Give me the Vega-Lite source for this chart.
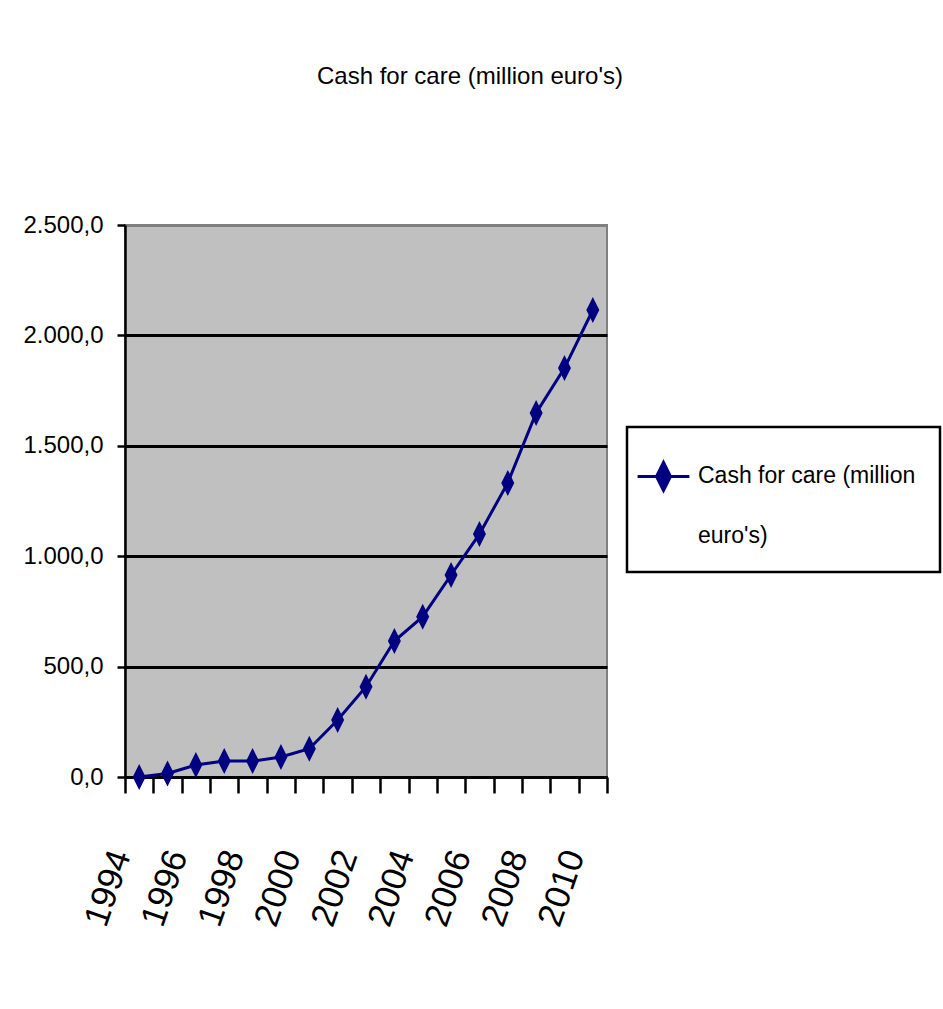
{
  "$schema": "https://vega.github.io/schema/vega-lite/v6.json",
  "autosize": {"type": "none"},
  "width": 482,
  "height": 552,
  "padding": {"left": 125, "top": 225, "right": 336, "bottom": 232},
  "background": "white",
  "title": {
    "text": "Cash for care (million euro's)",
    "anchor": "middle",
    "frame": "group",
    "dx": 104,
    "offset": 124,
    "fontSize": 24,
    "font": "Liberation Sans, Arial, sans-serif",
    "fontWeight": "normal",
    "color": "black"
  },
  "data": {
    "values": [
      {"year": 1994, "amount": 0},
      {"year": 1995, "amount": 16},
      {"year": 1996, "amount": 54},
      {"year": 1997, "amount": 72},
      {"year": 1998, "amount": 72},
      {"year": 1999, "amount": 91},
      {"year": 2000, "amount": 128},
      {"year": 2001, "amount": 258},
      {"year": 2002, "amount": 409},
      {"year": 2003, "amount": 616},
      {"year": 2004, "amount": 726},
      {"year": 2005, "amount": 915},
      {"year": 2006, "amount": 1100},
      {"year": 2007, "amount": 1332},
      {"year": 2008, "amount": 1649},
      {"year": 2009, "amount": 1852},
      {"year": 2010, "amount": 2115}
    ]
  },
  "encoding": {
    "x": {
      "field": "year",
      "type": "ordinal",
      "bandPosition": 0.5,
      "scale": {"type": "band", "paddingInner": 0, "paddingOuter": 0},
      "axis": {
        "title": null,
        "tickBand": "extent",
        "tickSize": 16,
        "tickWidth": 2.5,
        "tickColor": "black",
        "domainColor": "black",
        "domainWidth": 3,
        "labelAngle": -71,
        "labelAlign": "right",
        "labelBaseline": "middle",
        "labelPadding": 58,
        "labelOffset": -19,
        "labelFontSize": 35,
        "labelColor": "black",
        "labelExpr": "datum.value % 2 === 0 ? datum.label : ''",
        "grid": false
      }
    },
    "y": {
      "field": "amount",
      "type": "quantitative",
      "scale": {"domain": [0, 2500], "nice": false},
      "axis": {
        "title": null,
        "values": [0, 500, 1000, 1500, 2000, 2500],
        "format": ",.1f",
        "tickSize": 8,
        "tickWidth": 2.5,
        "tickColor": "black",
        "domainColor": "black",
        "domainWidth": 2.5,
        "labelPadding": 14,
        "labelFontSize": 24,
        "labelColor": "black",
        "grid": true,
        "gridWidth": 3,
        "gridColor": {"condition": {"test": "datum.value === 2500", "value": "#808080"}, "value": "black"}
      }
    },
    "color": {
      "datum": "Cash for care (million euro's)",
      "type": "nominal",
      "scale": {"range": ["#000080"]},
      "legend": {
        "title": null,
        "orient": "none",
        "legendX": 502,
        "legendY": 202,
        "padding": 24,
        "strokeColor": "black",
        "fillColor": "white",
        "symbolType": "M-1.85,0.71H1.85M0,-0.29L0.5,0.71L0,1.71L-0.5,0.71Z",
        "symbolSize": 784,
        "symbolOffset": -3,
        "symbolStrokeWidth": 3,
        "symbolFillColor": "#000080",
        "symbolStrokeColor": "#000080",
        "labelOffset": 19,
        "labelFontSize": 23,
        "labelColor": "black",
        "labelLimit": 0,
        "labelBaseline": "alphabetic",
        "labelExpr": "['Cash for care (million', 'euro\\'s)']",
        "encode": {
          "labels": {"update": {"lineHeight": {"value": 60}, "dy": {"value": 16}}}
        }
      }
    }
  },
  "layer": [
    {"mark": {"type": "line", "strokeWidth": 3}},
    {
      "mark": {
        "type": "point",
        "shape": "M0,-1L0.5,0L0,1L-0.5,0Z",
        "size": 676,
        "filled": true,
        "opacity": 1
      }
    }
  ],
  "config": {
    "font": "Liberation Sans, Arial, sans-serif",
    "locale": {
      "number": {"decimal": ",", "thousands": ".", "grouping": [3], "currency": ["", " €"]}
    },
    "view": {"fill": "#C0C0C0", "stroke": "#808080", "strokeWidth": 2},
    "axis": {"labelFont": "Liberation Sans, Arial, sans-serif"},
    "legend": {"labelFont": "Liberation Sans, Arial, sans-serif", "strokeWidth": 2.5}
  }
}
